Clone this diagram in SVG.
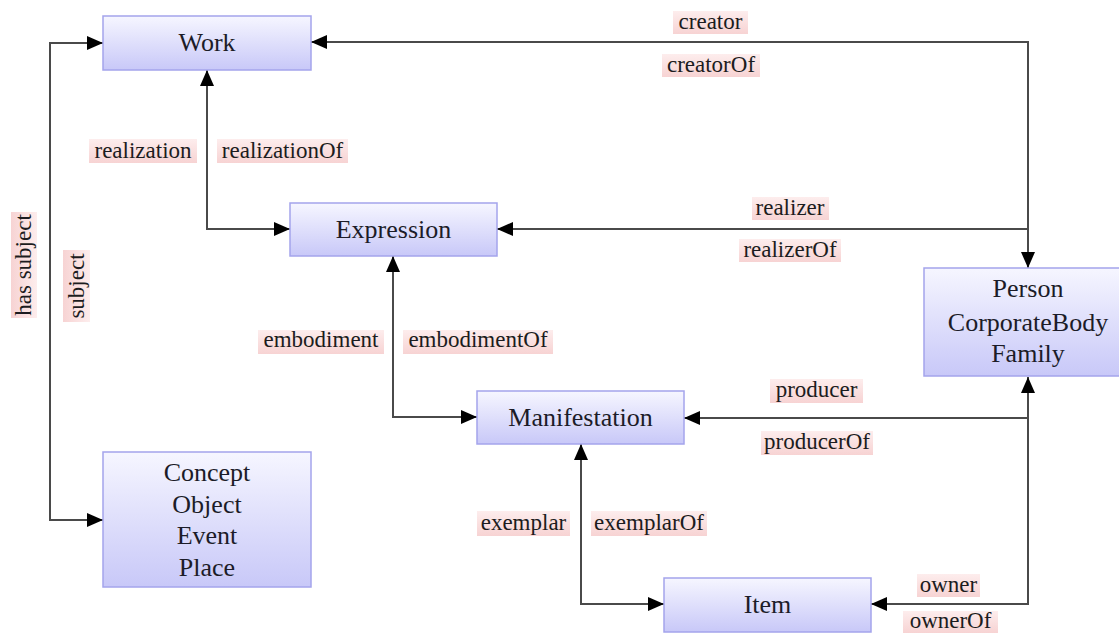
<svg xmlns="http://www.w3.org/2000/svg" width="1119" height="633" viewBox="0 0 1119 633">
<defs>
<linearGradient id="ng" x1="0" y1="0" x2="0" y2="1">
<stop offset="0" stop-color="#f6f6ff"/>
<stop offset="1" stop-color="#c8c8f8"/>
</linearGradient>
<linearGradient id="lg" x1="0" y1="0" x2="0" y2="1">
<stop offset="0" stop-color="#fdeded"/>
<stop offset="1" stop-color="#f7d3d3"/>
</linearGradient>
<linearGradient id="lgv" x1="1" y1="0" x2="0" y2="0">
<stop offset="0" stop-color="#fdeded"/>
<stop offset="1" stop-color="#f7d3d3"/>
</linearGradient>
<marker id="ah" viewBox="0 0 16 14" refX="16" refY="7" markerWidth="16" markerHeight="14" markerUnits="userSpaceOnUse" orient="auto-start-reverse">
<path d="M0,0 L16,7 L0,14 Z" fill="#000"/>
</marker>
<style>
.node rect{fill:url(#ng);stroke:#a4a4ec;stroke-width:1.5}
.node text{font-family:"Liberation Serif","Times New Roman",serif;font-size:26px;fill:#1c1c28;text-anchor:middle}
.conn path{fill:none;stroke:#4a4a4a;stroke-width:2}
.lbl rect{fill:url(#lg)}
.lbl rect.v{fill:url(#lgv)}
.lbl text{font-family:"Liberation Serif","Times New Roman",serif;font-size:23px;fill:#1c1c20;text-anchor:middle}
</style>
</defs>
<rect width="1119" height="633" fill="#fff"/>
<g id="connectors" class="conn">
<path d="M103,43 H50 V520 H103" marker-start="url(#ah)" marker-end="url(#ah)"/>
<path d="M207,70 V229 H290" marker-start="url(#ah)" marker-end="url(#ah)"/>
<path d="M311,42 H1028 V268" marker-start="url(#ah)" marker-end="url(#ah)"/>
<path d="M497,229 H1028" marker-start="url(#ah)"/>
<path d="M393,256 V417 H477" marker-start="url(#ah)" marker-end="url(#ah)"/>
<path d="M684,418 H1028 V377" marker-start="url(#ah)" marker-end="url(#ah)"/>
<path d="M581,444 V604 H664" marker-start="url(#ah)" marker-end="url(#ah)"/>
<path d="M871,604 H1028 V418" marker-start="url(#ah)"/>
</g>
<g id="labels" class="lbl">
<rect x="673" y="11" width="75" height="23"/><text x="710.5" y="29">creator</text>
<rect x="662" y="54" width="98" height="23"/><text x="711" y="72">creatorOf</text>
<rect x="89" y="139" width="108" height="24"/><text x="143" y="158">realization</text>
<rect x="217" y="139" width="131" height="24"/><text x="282.5" y="158">realizationOf</text>
<rect x="752" y="197" width="77" height="23"/><text x="790" y="215">realizer</text>
<rect x="739" y="239" width="102" height="23"/><text x="790" y="257">realizerOf</text>
<rect x="258" y="330" width="126" height="24"/><text x="321" y="347">embodiment</text>
<rect x="403" y="330" width="150" height="24"/><text x="478" y="347">embodimentOf</text>
<rect x="770" y="379" width="93" height="24"/><text x="816.5" y="397">producer</text>
<rect x="761" y="431" width="112" height="24"/><text x="817" y="449">producerOf</text>
<rect x="477" y="511" width="93" height="25"/><text x="523.5" y="530">exemplar</text>
<rect x="591" y="511" width="116" height="25"/><text x="649" y="530">exemplarOf</text>
<rect x="917" y="574" width="63" height="23"/><text x="948.5" y="592">owner</text>
<rect x="903" y="611" width="95" height="22"/><text x="950.5" y="628">ownerOf</text>
<rect class="v" x="11" y="212" width="26" height="106"/><text transform="translate(31,265) rotate(-90)">has subject</text>
<rect class="v" x="63" y="250" width="27" height="72"/><text transform="translate(84,286) rotate(-90)">subject</text>
</g>
<g id="work" class="node"><rect x="103" y="16" width="208" height="54"/><text x="207" y="51">Work</text></g>
<g id="expression" class="node"><rect x="290" y="203" width="207" height="53"/><text x="393.5" y="238">Expression</text></g>
<g id="manifestation" class="node"><rect x="477" y="391" width="207" height="53"/><text x="580.5" y="426">Manifestation</text></g>
<g id="item" class="node"><rect x="664" y="578" width="207" height="54"/><text x="767.5" y="613">Item</text></g>
<g id="agent" class="node"><rect x="924" y="268" width="208" height="108"/><text x="1028" y="297">Person</text><text x="1028" y="331">CorporateBody</text><text x="1028" y="362">Family</text></g>
<g id="subjects" class="node"><rect x="103" y="452" width="208" height="135"/><text x="207" y="481">Concept</text><text x="207" y="513">Object</text><text x="207" y="544">Event</text><text x="207" y="576">Place</text></g>
</svg>
